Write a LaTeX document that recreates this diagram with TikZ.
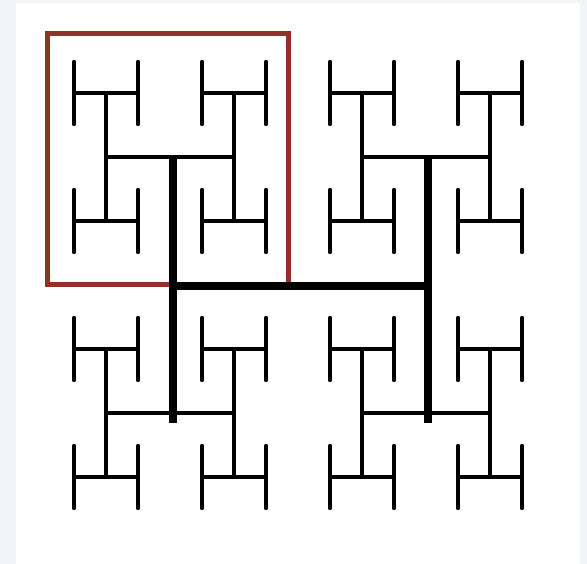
\documentclass[tikz,border=0pt]{standalone}
\definecolor{bgc}{HTML}{F1F5F9}
\definecolor{framered}{HTML}{94302A}
\begin{document}
\begin{tikzpicture}[x=1pt,y=-1pt,
  thinbar/.style={line width=3.3pt, line cap=round},
  thickbar/.style={line width=8pt},
  frame/.style={draw=framered, line width=5pt}]
\fill[bgc] (0,0) rectangle (587,564);
\fill[white] (16,3) rectangle (580,564);
\useasboundingbox (0,0) rectangle (587,564);
% highlighted quadrant
\draw[frame] (47.5,33.5) rectangle (288,285);
% level 2 H's
\foreach \cx in {106,234,362,490} {
  \foreach \cy in {93,221,349,477} {
    \draw[thinbar] (\cx-32,\cy-31.5) -- (\cx-32,\cy+31.5);
    \draw[thinbar] (\cx+32,\cy-31.5) -- (\cx+32,\cy+31.5);
    \draw[thinbar] (\cx-32,\cy) -- (\cx+32,\cy);
  }
}
% level 1 H's
\foreach \cx in {170,426} {
  \foreach \cy in {157,413} {
    \draw[thinbar] (\cx-64,\cy-64) -- (\cx-64,\cy+64);
    \draw[thinbar] (\cx+64,\cy-64) -- (\cx+64,\cy+64);
    \draw[thinbar] (\cx-64,\cy) -- (\cx+64,\cy);
  }
}
% level 0 H
\draw[thickbar] (173,158) -- (173,423);
\draw[thickbar] (428,158) -- (428,423);
\draw[thickbar] (169,286) -- (428,286);
\end{tikzpicture}
\end{document}
